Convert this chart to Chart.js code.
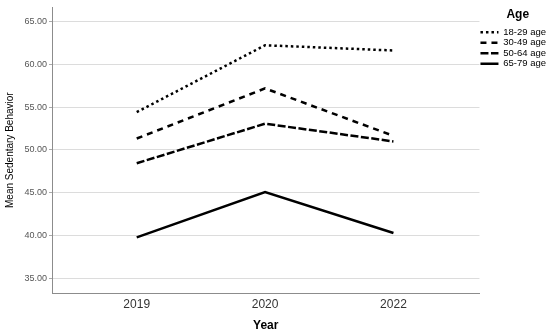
<!DOCTYPE html>
<html>
<head>
<meta charset="utf-8">
<script src="https://cdn.jsdelivr.net/npm/chart.js@4"></script>
<style>
  html, body { margin: 0; padding: 0; background: #fff; }
  #wrap { width: 550px; height: 336px; }
</style>
</head>
<body>
<div id="wrap"><canvas id="chart" width="550" height="336"></canvas></div>
<script>
// values
const years = ['2019', '2020', '2022'];
const ageGroups = ['18-29 age', '30-49 age', '50-64 age', '65-79 age'];
const age18to29 = [54.42, 62.23, 61.62];
const age30to49 = [51.34, 57.19, 51.65];
const age50to64 = [48.45, 53.07, 51.0];
const age65to79 = [39.8, 45.1, 40.3];
const yTicks = [35, 40, 45, 50, 55, 60, 65];

const seriesValues = [age18to29, age30to49, age50to64, age65to79];
const dashes = [[2.5, 3], [6, 5], [8, 2.5], []];

const toPoints = vals => vals.map((v, i) => ({ x: i, y: v }));

document.addEventListener('DOMContentLoaded', () => {
  const ctx = document.getElementById('chart').getContext('2d');
  Chart.defaults.font.family = 'Arial, "Liberation Sans", sans-serif';

  const datasets = ageGroups.map((label, i) => ({
    label: label,
    data: toPoints(seriesValues[i]),
    borderColor: '#000',
    backgroundColor: '#000',
    borderWidth: 2.5,
    borderDash: dashes[i],
    borderCapStyle: 'butt',
    pointRadius: 0,
    pointHoverRadius: 0,
    tension: 0,
    fill: false
  }));

  new Chart(ctx, {
    type: 'line',
    data: { datasets: datasets },
    options: {
      responsive: false,
      animation: false,
      events: [],
      layout: { padding: { top: 4, right: -6, left: 0, bottom: 0 } },
      plugins: {
        tooltip: { enabled: false },
        legend: {
          position: 'right',
          align: 'start',
          title: {
            display: true,
            text: 'Age',
            color: '#000',
            font: { size: 12, weight: 'bold' },
            padding: { top: 5, bottom: 3 }
          },
          labels: {
            usePointStyle: true,
            pointStyle: 'line',
            pointStyleWidth: 18,
            color: '#333',
            font: { size: 9.5 },
            padding: 1,
            // keep the dash pattern of each line in its legend sample
            generateLabels: chart => chart.data.datasets.map((ds, i) => ({
              text: ds.label,
              fillStyle: '#000',
              strokeStyle: '#000',
              lineWidth: 2.5,
              lineDash: ds.borderDash,
              lineCap: 'butt',
              pointStyle: 'line',
              hidden: false,
              datasetIndex: i
            }))
          }
        }
      },
      scales: {
        x: {
          type: 'linear',
          min: -0.66,
          max: 2.67,
          grid: { display: false, drawTicks: false },
          border: { display: true, color: '#8c8c8c', width: 1 },
          ticks: {
            stepSize: 1,
            includeBounds: false,
            autoSkip: false,
            maxRotation: 0,
            padding: 4,
            color: '#333',
            font: { size: 12 },
            callback: v => (Number.isInteger(v) && years[v]) ? years[v] : ''
          },
          title: {
            display: true,
            text: 'Year',
            color: '#000',
            font: { size: 12, weight: 'bold' },
            padding: { top: 4, bottom: 3 }
          },
          afterFit: s => { s.height = 43; }
        },
        y: {
          min: 33.3,
          max: 66.65,
          grid: { color: '#dcdcdc', lineWidth: 1, tickLength: 3, tickColor: '#aaa' },
          border: { display: true, color: '#8c8c8c', width: 1 },
          ticks: {
            stepSize: 5,
            includeBounds: false,
            padding: 2,
            color: '#555',
            font: { size: 9 },
            callback: v => yTicks.includes(v) ? v.toFixed(2) : ''
          },
          title: {
            display: true,
            text: 'Mean Sedentary Behavior',
            color: '#000',
            font: { size: 10 },
            padding: { top: 4, bottom: 0 }
          },
          afterFit: s => { s.width = 52; }
        }
      }
    }
  });
});
</script>
</body>
</html>
